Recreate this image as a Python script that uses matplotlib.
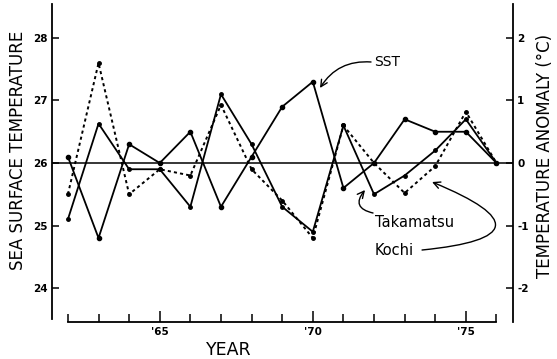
import matplotlib
matplotlib.use("Agg")
import matplotlib.pyplot as plt

# data
years = list(range(1962, 1977))
sst = [26.1, 24.8, 26.3, 26.0, 26.5, 25.3, 26.1, 26.9, 27.3, 25.6, 26.0, 26.7, 26.5, 26.5, 26.0]
takamatsu = [-0.9, 0.63, -0.1, -0.1, -0.7, 1.1, 0.3, -0.7, -1.1, 0.6, -0.5, -0.2, 0.2, 0.7, 0.0]
kochi = [-0.5, 1.6, -0.5, -0.1, -0.2, 0.93, -0.1, -0.6, -1.2, 0.6, 0.0, -0.48, -0.05, 0.82, 0.0]

left_ticks = [24, 25, 26, 27, 28]
right_ticks = [-2, -1, 0, 1, 2]
year_ticks = [1965, 1970, 1975]
year_labels = ["'65", "'70", "'75"]

plt.rcParams['axes.unicode_minus'] = False
plt.rcParams['font.family'] = 'DejaVu Sans'

W, H = 557, 359
fig = plt.figure(figsize=(W / 100, H / 100), dpi=100)
ax = fig.add_axes([52 / W, (H - 322.4) / H, (513 - 52) / W, 318.8 / H])
ax.set_xlim(1961.48, 1976.54)
ax.set_ylim(23.45, 28.55)
ax2 = ax.twinx()
ax2.set_ylim(-2.55, 2.55)

# zero / 26 reference line
ax.axhline(26, color='black', lw=1.1)

ax.plot(years, sst, color='black', lw=1.3, marker='o', ms=3)
ax2.plot(years, takamatsu, color='black', lw=1.3, marker='o', ms=2.5)
ax2.plot(years, kochi, color='black', lw=1.4, linestyle=(0, (1.6, 1.6)), marker='o', ms=2.5)

# spines
for a in (ax, ax2):
    a.spines['top'].set_visible(False)
ax.spines['right'].set_visible(False)
ax2.spines['left'].set_visible(False)
ax2.spines['bottom'].set_visible(False)
ax.spines['bottom'].set_bounds(1962, 1976)
ax.spines['left'].set_bounds(23.5, 28.55)
for s in ('left', 'bottom'):
    ax.spines[s].set_linewidth(1.3)
ax2.spines['right'].set_linewidth(1.3)

ax.set_yticks(left_ticks)
ax.set_yticklabels([str(t) for t in left_ticks])
ax.tick_params(axis='y', direction='in', length=5, width=1.1, labelsize=7.5, pad=3)
for lb in ax.get_yticklabels():
    lb.set_fontweight('bold')

ax2.set_yticks(right_ticks)
ax2.set_yticklabels([str(t) for t in right_ticks])
ax2.tick_params(axis='y', direction='in', length=5, width=1.1, labelsize=7.5, pad=3)
for lb in ax2.get_yticklabels():
    lb.set_fontweight('bold')

ax.set_xticks(year_ticks)
ax.set_xticklabels(year_labels)
ax.set_xticks([y for y in years if y not in year_ticks], minor=True)
ax.tick_params(axis='x', which='major', direction='in', length=8, width=1.1, labelsize=7.5, pad=3)
ax.tick_params(axis='x', which='minor', direction='in', length=6, width=1.1)
for lb in ax.get_xticklabels():
    lb.set_fontweight('bold')

fig.text(18 / W, 1 - 150 / H, 'SEA SURFACE TEMPERATURE', rotation=90,
         ha='center', va='center', fontsize=12)
fig.text(545 / W, 1 - 156 / H, 'TEMPERATURE ANOMALY (°C)', rotation=90,
         ha='center', va='center', fontsize=12)
fig.text(229 / W, 1 - 350 / H, 'YEAR', ha='center', va='center', fontsize=12.5)


def px2data(px, py):
    return 1962 + (px - 68) / 30.6, 26 - (py - 163) / 62.5


# labels and arrows
ax.text(*px2data(374, 62), 'SST', ha='left', va='center', fontsize=10)
ax.text(*px2data(375, 222), 'Takamatsu', ha='left', va='center', fontsize=10.5)
ax.text(*px2data(375, 250), 'Kochi', ha='left', va='center', fontsize=10.5)

arrow = dict(arrowstyle='->', lw=1, color='black', shrinkA=0, shrinkB=0, mutation_scale=12)
ax.annotate('', xy=px2data(320, 88), xytext=px2data(371, 62),
            arrowprops=dict(arrow, connectionstyle='arc3,rad=0.3'))
ax.annotate('', xy=px2data(365, 190), xytext=px2data(373, 213),
            arrowprops=dict(arrow, connectionstyle='arc3,rad=-0.8'))
ax.annotate('', xy=px2data(432, 182), xytext=px2data(422, 250),
            arrowprops=dict(arrow, connectionstyle='arc3,rad=2.0'))

fig.savefig('out.png', dpi=100)
